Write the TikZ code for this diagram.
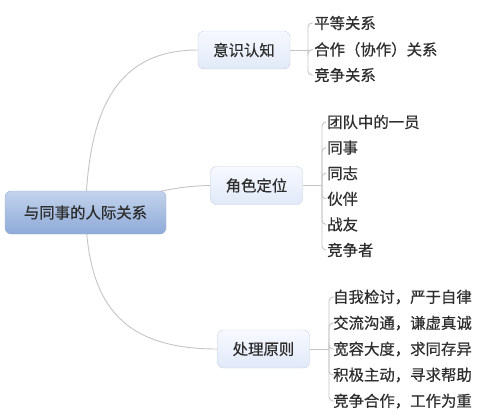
\documentclass[tikz,border=0pt]{standalone}
\usepackage{fontspec}
\setmainfont{Noto Sans CJK SC}[FakeBold=0.6]
\usetikzlibrary{backgrounds}
\definecolor{linegray}{HTML}{C4C4C4}
\definecolor{txt}{HTML}{2E2E2E}
\definecolor{roottop}{HTML}{C3D3EC}
\definecolor{rootbot}{HTML}{8EAAD8}
\definecolor{rootborder}{HTML}{9DB2D6}
\definecolor{subtop}{HTML}{F7F9FF}
\definecolor{subbot}{HTML}{E1E9F8}
\definecolor{subborder}{HTML}{C3CFE3}
\begin{document}
\begin{tikzpicture}[x=1pt,y=-1pt,
  conn/.style={draw=linegray, line width=0.9pt},
  txtfont/.style={font=\fontsize{15.4}{15.4}\selectfont, text=txt},
  rootbox/.style={txtfont, draw=rootborder, rounded corners=6pt, top color=roottop, bottom color=rootbot, minimum width=161pt, minimum height=43pt},
  subbox/.style={txtfont, draw=subborder, rounded corners=6pt, top color=subtop, bottom color=subbot, minimum width=92pt, minimum height=38pt},
  leaf/.style={txtfont, anchor=west, inner sep=1pt}]
\useasboundingbox (0,0) rectangle (500,408);

\node[rootbox] (root) at (85.5,212.5) {与同事的人际关系};
\node[subbox] (s1) at (244,50) {意识认知};
\node[subbox] (s2) at (256.5,185.5) {角色定位};
\node[subbox] (s3) at (263.5,349) {处理原则};

\node[leaf] (a1) at (313,23) {平等关系};
\node[leaf] (a2) at (313,49.5) {合作（协作）关系};
\node[leaf] (a3) at (313,75) {竞争关系};

\node[leaf] (b1) at (326,122) {团队中的一员};
\node[leaf] (b2) at (326,147.6) {同事};
\node[leaf] (b3) at (326,173.2) {同志};
\node[leaf] (b4) at (326,198.8) {伙伴};
\node[leaf] (b5) at (326,224.4) {战友};
\node[leaf] (b6) at (326,250) {竞争者};

\node[leaf] (c1) at (332,297) {自我检讨，严于自律};
\node[leaf] (c2) at (332,323) {交流沟通，谦虚真诚};
\node[leaf] (c3) at (332,349) {宽容大度，求同存异};
\node[leaf] (c4) at (332,375) {积极主动，寻求帮助};
\node[leaf] (c5) at (332,401) {竞争合作，工作为重};

\coordinate (j1) at (308,50);
\coordinate (j2) at (322,185.5);
\coordinate (j3) at (329,349);

\begin{scope}[on background layer]
\draw[conn] (root.center) .. controls (88,120) and (110,50) .. (s1.west);
\draw[conn] (root.center) .. controls (140,196) and (170,186) .. (s2.west);
\draw[conn] (root.center) .. controls (88,300) and (118,349) .. (s3.west);
\end{scope}

\draw[conn] (s1.east) -- (j1);
\draw[conn] (s2.east) -- (j2);
\draw[conn] (s3.east) -- (j3);
\foreach \n in {a1,a2,a3} \draw[conn, rounded corners=4pt] (j1) |- (\n.west);
\foreach \n in {b1,b2,b3,b4,b5,b6} \draw[conn, rounded corners=4pt] (j2) |- (\n.west);
\foreach \n in {c1,c2,c3,c4,c5} \draw[conn, rounded corners=4pt] (j3) |- (\n.west);
\end{tikzpicture}
\end{document}
